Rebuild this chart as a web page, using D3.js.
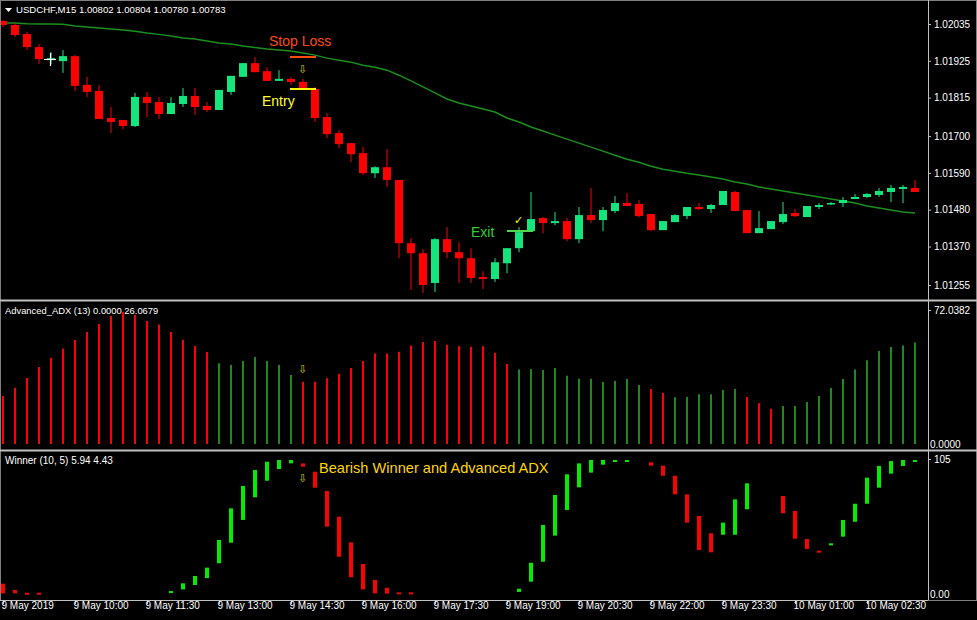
<!DOCTYPE html>
<html>
<head>
<meta charset="utf-8">
<script src="https://cdn.jsdelivr.net/npm/d3@7"></script>
<style>
  body { margin: 0; background: #000; }
  svg { display: block; }
  text { font-family: "Liberation Sans", Arial, sans-serif; }
</style>
</head>
<body>
<svg id="chart" width="977" height="620"></svg>
<script>
// candles: open, high, low, close (USDCHF M15)
var opens  = [1.02044,1.02032,1.02005,1.01966,1.01927,1.01924,1.01939,1.01853,1.01835,1.01754,1.01748,1.01730,1.01817,1.01802,1.01766,1.01796,1.01820,1.01790,1.01778,1.01832,1.01877,1.01918,1.01894,1.01865,1.01871,1.01862,1.01841,1.01757,1.01709,1.01679,1.01649,1.01589,1.01607,1.01569,1.01380,1.01350,1.01261,1.01392,1.01353,1.01335,1.01279,1.01273,1.01320,1.01365,1.01416,1.01455,1.01440,1.01446,1.01392,1.01464,1.01449,1.01476,1.01500,1.01497,1.01467,1.01419,1.01443,1.01461,1.01488,1.01482,1.01494,1.01533,1.01479,1.01410,1.01422,1.01443,1.01470,1.01458,1.01488,1.01497,1.01500,1.01512,1.01518,1.01524,1.01533,1.01542,1.01545];
var highs  = [1.02047,1.02038,1.02011,1.01975,1.01951,1.01957,1.01942,1.01877,1.01853,1.01787,1.01748,1.01829,1.01832,1.01817,1.01817,1.01844,1.01844,1.01802,1.01838,1.01880,1.01918,1.01936,1.01906,1.01897,1.01877,1.01871,1.01847,1.01769,1.01718,1.01679,1.01667,1.01610,1.01661,1.01569,1.01395,1.01362,1.01395,1.01428,1.01383,1.01365,1.01296,1.01335,1.01365,1.01428,1.01533,1.01458,1.01473,1.01455,1.01488,1.01545,1.01488,1.01521,1.01530,1.01509,1.01467,1.01446,1.01467,1.01488,1.01500,1.01497,1.01536,1.01536,1.01479,1.01476,1.01446,1.01503,1.01482,1.01491,1.01500,1.01503,1.01518,1.01527,1.01530,1.01545,1.01554,1.01554,1.01569];
var lows   = [1.02026,1.01996,1.01957,1.01915,1.01915,1.01889,1.01835,1.01817,1.01751,1.01709,1.01721,1.01727,1.01757,1.01751,1.01766,1.01787,1.01763,1.01772,1.01778,1.01823,1.01877,1.01891,1.01865,1.01865,1.01853,1.01841,1.01742,1.01694,1.01664,1.01622,1.01584,1.01575,1.01548,1.01335,1.01240,1.01231,1.01234,1.01335,1.01261,1.01261,1.01243,1.01264,1.01290,1.01353,1.01416,1.01410,1.01434,1.01386,1.01380,1.01440,1.01416,1.01470,1.01491,1.01458,1.01416,1.01419,1.01443,1.01452,1.01479,1.01470,1.01494,1.01476,1.01410,1.01410,1.01422,1.01437,1.01458,1.01458,1.01482,1.01494,1.01488,1.01512,1.01515,1.01518,1.01503,1.01500,1.01533];
var closes = [1.02032,1.02002,1.01966,1.01930,1.01933,1.01939,1.01850,1.01832,1.01751,1.01742,1.01730,1.01817,1.01799,1.01766,1.01799,1.01820,1.01787,1.01778,1.01838,1.01880,1.01918,1.01891,1.01865,1.01871,1.01862,1.01844,1.01754,1.01706,1.01676,1.01646,1.01589,1.01607,1.01569,1.01380,1.01350,1.01255,1.01392,1.01353,1.01335,1.01276,1.01273,1.01323,1.01365,1.01413,1.01452,1.01440,1.01446,1.01392,1.01464,1.01449,1.01479,1.01500,1.01491,1.01461,1.01419,1.01446,1.01464,1.01488,1.01482,1.01494,1.01536,1.01476,1.01410,1.01425,1.01446,1.01467,1.01461,1.01491,1.01494,1.01500,1.01509,1.01518,1.01527,1.01536,1.01545,1.01548,1.01533];
// moving average (green line)
var maLine = [1.02038,1.02038,1.02036,1.02035,1.02035,1.02034,1.02029,1.02026,1.02023,1.02020,1.02017,1.02013,1.02008,1.02004,1.01999,1.01993,1.01990,1.01984,1.01978,1.01975,1.01969,1.01965,1.01960,1.01957,1.01954,1.01948,1.01942,1.01933,1.01927,1.01921,1.01912,1.01906,1.01897,1.01882,1.01865,1.01847,1.01829,1.01811,1.01799,1.01790,1.01781,1.01772,1.01754,1.01742,1.01727,1.01715,1.01703,1.01691,1.01679,1.01667,1.01655,1.01643,1.01631,1.01622,1.01610,1.01601,1.01595,1.01589,1.01584,1.01578,1.01572,1.01563,1.01557,1.01548,1.01542,1.01536,1.01530,1.01524,1.01518,1.01512,1.01506,1.01500,1.01491,1.01485,1.01479,1.01473,1.01470];
// Advanced_ADX (13)
var adxVals = [25.8,30.3,35.5,41.4,46.4,51.3,55.9,60.2,64.5,68.8,71.1,69.4,66.1,64.3,60.2,56.1,52.7,49.5,43.4,42.5,44.6,46.8,44.6,42.5,37.1,33.5,33.5,35.3,37.8,40.9,44.6,48.6,48.6,49.6,52.9,54.8,55.4,53.4,52.5,52.3,52.5,49.1,43.0,40.1,40.3,39.8,40.9,36.7,35.1,35.1,33.3,33.9,34.9,31.7,29.6,27.4,25.1,25.3,26.7,26.7,29.0,29.6,25.3,21.9,19.0,20.4,20.4,22.6,25.8,30.1,34.9,40.1,45.0,50.0,52.1,52.9,54.5];
var adxBear = [1,1,1,1,1,1,1,1,1,1,1,1,1,1,1,1,1,1,0,0,0,0,0,0,0,1,1,1,1,1,1,1,1,1,1,1,1,1,1,1,1,1,1,0,0,0,0,0,0,0,0,0,0,0,1,1,0,0,0,0,0,0,1,1,1,0,0,0,0,0,0,0,0,0,0,0,0];
// Winner (10, 5): segment top / bottom, colour
var winHi = [8.0,3.1,1.0,1.0,null,null,null,null,null,null,null,null,null,null,2.3,8.3,14.0,20.5,42.0,66.6,84.0,96.4,102.9,104.2,104.2,101.6,95.1,80.1,60.1,40.2,23.3,10.9,4.9,1.3,1.3,null,null,null,null,null,null,null,null,4.1,24.3,53.7,77.0,93.1,101.6,104.2,104.2,104.2,104.2,null,102.4,99.8,92.0,77.5,60.7,47.2,55.5,73.6,86.1,null,null,76.2,64.6,42.8,33.7,39.4,57.6,70.2,90.5,99.6,103.4,104.2,104.2];
var winLo = [0.5,0.5,0.3,0.3,null,null,null,null,null,null,null,null,null,null,1.0,3.6,7.0,12.4,23.9,39.9,57.6,75.2,88.1,97.2,101.6,99.0,82.7,52.4,29.0,13.0,3.6,0.5,0.3,0.3,0.3,null,null,null,null,null,null,null,null,1.6,9.6,25.1,45.4,65.3,83.0,94.4,100.6,103.2,103.4,null,99.8,92.0,77.5,55.5,34.2,32.4,46.1,46.1,65.9,null,null,62.8,43.0,35.0,33.7,38.7,44.6,56.2,70.2,82.7,93.6,99.6,102.7];
var winBear = [1,1,1,1,0,0,0,0,0,0,0,0,0,0,0,0,0,0,0,0,0,0,0,0,0,1,1,1,1,1,1,1,1,1,1,0,0,0,0,0,0,0,0,0,0,0,0,0,0,0,0,0,0,0,1,1,1,1,1,1,0,0,0,0,0,1,1,1,1,0,0,0,0,0,0,0,0];
// axis labels
var priceTicks = [1.02035,1.01925,1.01815,1.01700,1.01590,1.01480,1.01370,1.01255];
var timeLabels = ["9 May 2019","9 May 10:00","9 May 11:30","9 May 13:00","9 May 14:30","9 May 16:00","9 May 17:30","9 May 19:00","9 May 20:30","9 May 22:00","9 May 23:30","10 May 01:00","10 May 02:30"];

var svg = d3.select("#chart");
var BULL = "#14e67d", BEAR = "#ff0000", GRID = "#c0c0c0", AXW = 928;
var x = d3.scaleLinear().domain([0, 76]).range([3, 915]);
var yP = d3.scaleLinear().domain([1.01255, 1.02035]).range([285, 24]);
var yA = d3.scaleLinear().domain([0, 72.0382]).range([444, 310]);
var yW = d3.scaleLinear().domain([0, 105]).range([594, 459]);

// clip panels
var defs = svg.append("defs");
[["cp", 2, 299], ["ca", 303, 449], ["cw", 453, 599]].forEach(function (c) {
    defs.append("clipPath").attr("id", c[0]).append("rect")
        .attr("x", 1).attr("y", c[1]).attr("width", AXW - 1).attr("height", c[2] - c[1]);
});

// frame
svg.append("rect").attr("x", 0.5).attr("y", 0.5).attr("width", 976).attr("height", 600)
    .attr("fill", "none").attr("stroke", "#808080");
[300.5, 450.5].forEach(function (yy) {
    svg.append("line").attr("x1", 0).attr("x2", 977).attr("y1", yy).attr("y2", yy)
        .attr("stroke", GRID).attr("stroke-width", 2);
});
svg.append("line").attr("x1", AXW + 0.5).attr("x2", AXW + 0.5).attr("y1", 0).attr("y2", 600).attr("stroke", GRID);
svg.append("line").attr("x1", 0).attr("x2", AXW).attr("y1", 600.5).attr("y2", 600.5).attr("stroke", GRID);

// price panel
var gp = svg.append("g").attr("clip-path", "url(#cp)");
var idx = d3.range(opens.length);
gp.append("path").datum(maLine)
    .attr("d", d3.line().x(function (d, i) { return x(i); }).y(function (d) { return yP(d); }))
    .attr("fill", "none").attr("stroke", "#1b8f1b").attr("stroke-width", 1.5);
var cg = gp.selectAll(".c").data(idx).enter().append("g");
cg.append("line")
    .attr("x1", function (i) { return x(i); }).attr("x2", function (i) { return x(i); })
    .attr("y1", function (i) { return yP(highs[i]); }).attr("y2", function (i) { return yP(lows[i]); })
    .attr("stroke", function (i) { return closes[i] >= opens[i] ? BULL : BEAR; });
cg.append("rect")
    .attr("x", function (i) { return x(i) - 4; }).attr("width", 8)
    .attr("y", function (i) { return yP(Math.max(opens[i], closes[i])); })
    .attr("height", function (i) { return Math.max(1.5, Math.abs(yP(opens[i]) - yP(closes[i]))); })
    .attr("fill", function (i) { return closes[i] >= opens[i] ? BULL : BEAR; });

// crosshair cursor
svg.append("path").attr("d", "M44,59.5H56M50.5,53V66").attr("stroke", "#fff").attr("stroke-width", 1.2);

// annotations
svg.append("line").attr("x1", 290).attr("x2", 316).attr("y1", 57).attr("y2", 57).attr("stroke", "#ff4a10").attr("stroke-width", 2);
svg.append("line").attr("x1", 290).attr("x2", 316).attr("y1", 89).attr("y2", 89).attr("stroke", "#ffff00").attr("stroke-width", 2);
svg.append("line").attr("x1", 507).attr("x2", 533).attr("y1", 231).attr("y2", 231).attr("stroke", "#4fd64f").attr("stroke-width", 2);
svg.append("text").attr("x", 269).attr("y", 46).attr("fill", "#ff4a10").attr("font-size", 14).text("Stop Loss");
svg.append("text").attr("x", 262).attr("y", 106).attr("fill", "#ffff33").attr("font-size", 14).text("Entry");
svg.append("text").attr("x", 471).attr("y", 237).attr("fill", "#33cc33").attr("font-size", 14).text("Exit");
svg.append("text").attr("x", 514).attr("y", 224).attr("fill", "#ffff00").attr("font-size", 11).text("✓");
[[302, 73], [302, 373], [302, 482]].forEach(function (a) {
    svg.append("text").attr("x", a[0]).attr("y", a[1]).attr("text-anchor", "middle")
        .attr("fill", "#d4c400").attr("font-size", 11).text("⇩");
});
svg.append("text").attr("x", 319).attr("y", 473).attr("fill", "#ffd700").attr("font-size", 14.6)
    .text("Bearish Winner and Advanced ADX");

// ADX panel
svg.append("g").attr("clip-path", "url(#ca)").selectAll("line").data(adxVals).enter().append("line")
    .attr("x1", function (d, i) { return x(i); }).attr("x2", function (d, i) { return x(i); })
    .attr("y1", yA(0)).attr("y2", function (d) { return yA(d); })
    .attr("stroke", function (d, i) { return adxBear[i] ? BEAR : "#1a8a1a"; }).attr("stroke-width", 2);

// Winner panel
svg.append("g").attr("clip-path", "url(#cw)").selectAll("rect")
    .data(idx.filter(function (i) { return winHi[i] != null; })).enter().append("rect")
    .attr("x", function (i) { return x(i) - 2; }).attr("width", 4)
    .attr("y", function (i) { return yW(winHi[i]); })
    .attr("height", function (i) { return Math.max(2, yW(winLo[i]) - yW(winHi[i])); })
    .attr("fill", function (i) { return winBear[i] ? "#ff0000" : "#00ee00"; });

// headers
svg.append("path").attr("d", "M5,8H12L8.5,12Z").attr("fill", "#fff");
svg.append("text").attr("x", 16).attr("y", 13).attr("fill", "#fff").attr("font-size", 9.6)
    .text("USDCHF,M15  1.00802 1.00804 1.00780 1.00783");
svg.append("text").attr("x", 5).attr("y", 314).attr("fill", "#fff").attr("font-size", 9.4)
    .text("Advanced_ADX (13) 0.0000 26.0679");
svg.append("text").attr("x", 5).attr("y", 464).attr("fill", "#fff").attr("font-size", 10)
    .text("Winner (10, 5)  5.94 4.43");

// right axes
svg.append("g").attr("transform", "translate(" + AXW + ",0)")
    .call(d3.axisRight(yP).tickValues(priceTicks).tickSize(3).tickFormat(d3.format(".5f")));
svg.append("g").attr("transform", "translate(" + AXW + ",0)")
    .call(d3.axisRight(yA).tickValues([72.0382]).tickSize(3).tickFormat(function () { return "72.0382"; }));
svg.append("g").attr("transform", "translate(" + AXW + ",0)")
    .call(d3.axisRight(yW).tickValues([105]).tickSize(3).tickFormat(d3.format("d")));
svg.append("text").attr("x", 930).attr("y", 448).attr("fill", "#fff").attr("font-size", 10).text("0.0000");
svg.append("text").attr("x", 930).attr("y", 598).attr("fill", "#fff").attr("font-size", 10).text("0.00");

// time axis
var tx = svg.append("g").attr("transform", "translate(0,600)")
    .call(d3.axisBottom(x).tickValues(d3.range(0, 73, 6)).tickSize(4)
        .tickFormat(function (d, i) { return timeLabels[i]; }));
tx.selectAll("text").attr("text-anchor", "start").attr("dx", -2).attr("dy", 2);

svg.selectAll(".domain").remove();
svg.selectAll(".tick line").attr("stroke", GRID);
svg.selectAll(".tick text").attr("fill", "#fff").attr("font-size", 10)
    .attr("font-family", "'Liberation Sans', Arial, sans-serif");
</script>
</body>
</html>
